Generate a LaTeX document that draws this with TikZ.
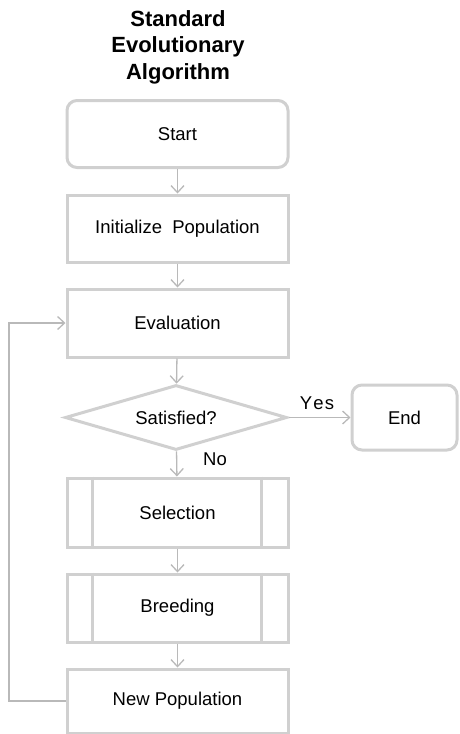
\documentclass[tikz,border=0pt]{standalone}
\usepackage{fontspec}
\setmainfont{Liberation Sans}
\usetikzlibrary{shapes.geometric,arrows.meta,calc}
\definecolor{boxgray}{RGB}{208,208,208}
\definecolor{linegray}{RGB}{185,185,185}
\begin{document}
\begin{tikzpicture}[x=1pt,y=-1pt,
  box/.style={draw=boxgray, line width=3pt, rectangle, minimum width=221pt, inner sep=0pt, font=\fontsize{18.5}{20}\selectfont},
  rbox/.style={box, rounded corners=10pt},
  dia/.style={draw=boxgray, line width=3pt, diamond, aspect=3.4, minimum width=222pt, minimum height=65pt, inner sep=0pt, font=\fontsize{18.5}{20}\selectfont},
  conn/.style={draw=linegray, line width=1.3pt, -{Straight Barb[length=7pt,width=13pt,line width=1.3pt]}},
  lbl/.style={font=\fontsize{18.5}{20}\selectfont, inner sep=0pt},
  sideline/.style={draw=boxgray, line width=3pt}
]
\useasboundingbox (0,0) rectangle (459,734);
\node[align=center, font=\fontsize{22}{26.5}\selectfont\bfseries] (title) at (178,47) {Standard\\Evolutionary\\Algorithm};
\node[rbox, minimum height=67pt] (start) at (177.5,134) {Start};
\node[box, minimum height=67pt] (init) at (177.5,228.5) {Initialize\ \ Population};
\node[box, minimum height=68pt] (eval) at (177.5,323) {Evaluation};
\node[dia] (sat) at (176,417.5) {Satisfied?};
\node[rbox, minimum width=105pt, minimum height=65pt] (end) at (404.5,417.5) {End};
\node[box, minimum height=69pt] (sel) at (177.5,512.5) {Selection};
\node[box, minimum height=68pt] (breed) at (177.5,608) {Breeding};
\node[box, minimum height=64pt] (newpop) at (177.5,701) {New Population};
\foreach \n in {sel,breed}{
  \draw[sideline] ([xshift=27pt]\n.north west) -- ([xshift=27pt]\n.south west);
  \draw[sideline] ([xshift=-28pt]\n.north east) -- ([xshift=-28pt]\n.south east);
}
\draw[conn] (start) -- (init);
\draw[conn] (init) -- (eval);
\draw[conn] (eval) -- (sat);
\draw[conn] (sat) -- (sel);
\draw[conn] (sel) -- (breed);
\draw[conn] (breed) -- (newpop);
\draw[conn] (sat.east) -- (end.west);
\coordinate (lb) at (9,701);
\coordinate (lt) at (9,323);
\draw[conn] (newpop.west) -- (lb) -- (lt) -- (eval.west);
\node[lbl] (yes) at (317,403) {Y\kern1.2pt e\kern1.2pt s};
\node[lbl] (no) at (215,459) {No};
\end{tikzpicture}
\end{document}
